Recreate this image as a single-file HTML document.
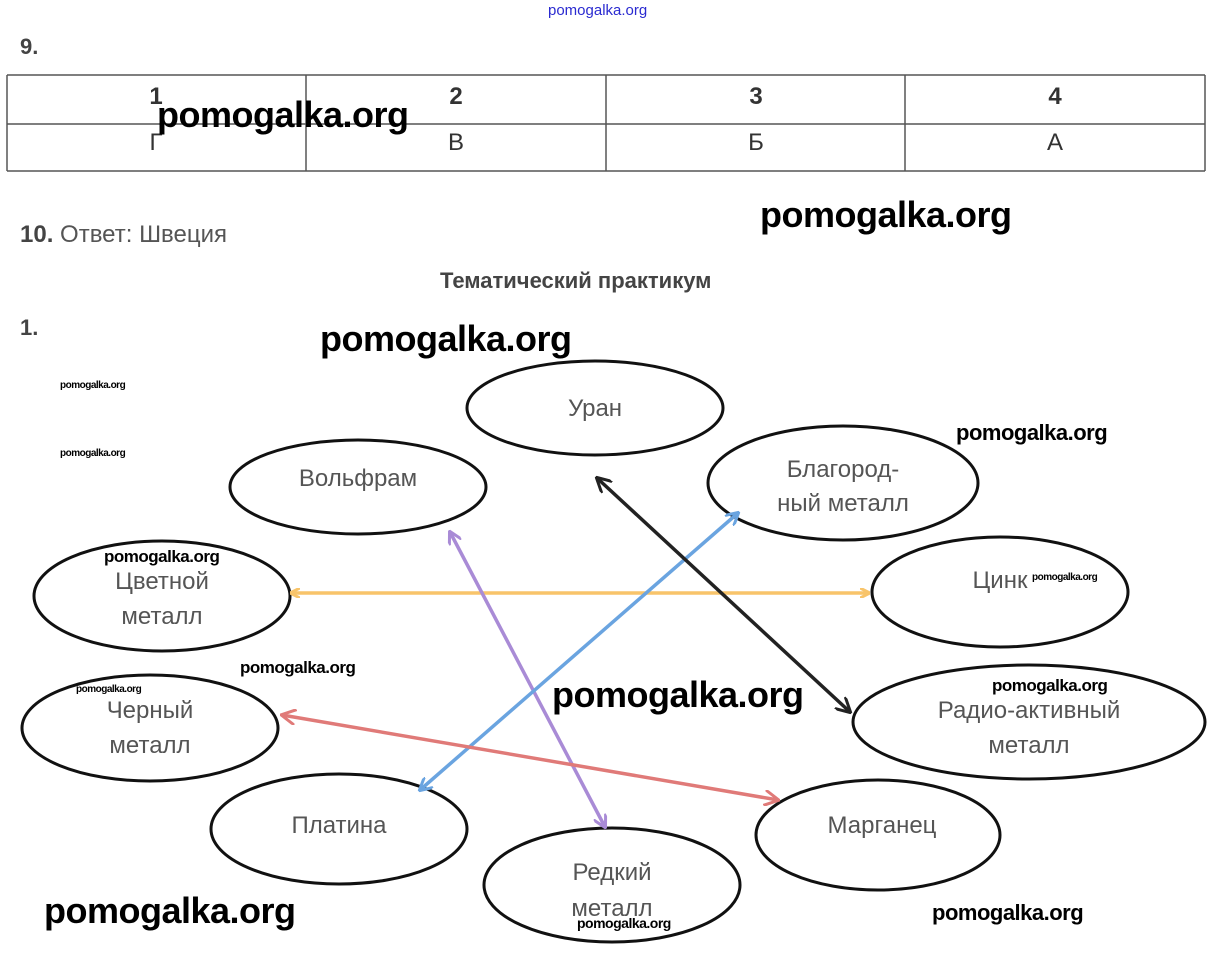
<!DOCTYPE html>
<html><head><meta charset="utf-8"><style>
body{margin:0;background:#fff;width:1213px;height:980px;overflow:hidden;position:relative;font-family:"Liberation Sans",sans-serif}
.t{position:absolute;white-space:nowrap}
.wm{font-family:"Liberation Sans",sans-serif;font-weight:bold;color:#000;position:absolute;white-space:nowrap;letter-spacing:-0.5px}
</style></head><body>
<svg width="1213" height="980" style="position:absolute;left:0;top:0" font-family="Liberation Sans, sans-serif">
<defs>
<marker id="mo" markerWidth="10" markerHeight="10" refX="8" refY="5" orient="auto-start-reverse" markerUnits="userSpaceOnUse"><path d="M0,0 L10,5 L0,10" fill="none" stroke="#f8c46a" stroke-width="3"/></marker>
<marker id="mp" markerWidth="14" markerHeight="14" refX="12" refY="7" orient="auto-start-reverse" markerUnits="userSpaceOnUse"><path d="M0,0 L13,7 L0,14" fill="none" stroke="#a98bd6" stroke-width="3"/></marker>
<marker id="mb" markerWidth="14" markerHeight="14" refX="12" refY="7" orient="auto-start-reverse" markerUnits="userSpaceOnUse"><path d="M0,0 L13,7 L0,14" fill="none" stroke="#6aa4e0" stroke-width="3"/></marker>
<marker id="mk" markerWidth="16" markerHeight="16" refX="14" refY="8" orient="auto-start-reverse" markerUnits="userSpaceOnUse"><path d="M0,0 L15,8 L0,16" fill="none" stroke="#222" stroke-width="3"/></marker>
<marker id="mr" markerWidth="16" markerHeight="16" refX="14" refY="8" orient="auto-start-reverse" markerUnits="userSpaceOnUse"><path d="M0,0 L15,8 L0,16" fill="none" stroke="#e07a78" stroke-width="3"/></marker>
</defs>
<!-- table -->
<g stroke="#555" stroke-width="1.5" fill="none">
<line x1="7" y1="75" x2="1205" y2="75"/><line x1="7" y1="124" x2="1205" y2="124"/><line x1="7" y1="171" x2="1205" y2="171"/>
<line x1="7" y1="75" x2="7" y2="171"/><line x1="306" y1="75" x2="306" y2="171"/><line x1="606" y1="75" x2="606" y2="171"/><line x1="905" y1="75" x2="905" y2="171"/><line x1="1205" y1="75" x2="1205" y2="171"/>
</g>
<g font-size="24" fill="#333" text-anchor="middle">
<text x="156" y="104" font-weight="bold">1</text><text x="456" y="104" font-weight="bold">2</text><text x="756" y="104" font-weight="bold">3</text><text x="1055" y="104" font-weight="bold">4</text>
<text x="156" y="150">Г</text><text x="456" y="150">В</text><text x="756" y="150">Б</text><text x="1055" y="150">А</text>
</g>
<!-- ellipses -->
<g fill="none" stroke="#111" stroke-width="3">
<ellipse cx="595" cy="408" rx="128" ry="47"/>
<ellipse cx="358" cy="487" rx="128" ry="47"/>
<ellipse cx="843" cy="483" rx="135" ry="57"/>
<ellipse cx="162" cy="596" rx="128" ry="55"/>
<ellipse cx="1000" cy="592" rx="128" ry="55"/>
<ellipse cx="150" cy="728" rx="128" ry="53"/>
<ellipse cx="1029" cy="722" rx="176" ry="57"/>
<ellipse cx="339" cy="829" rx="128" ry="55"/>
<ellipse cx="878" cy="835" rx="122" ry="55"/>
<ellipse cx="612" cy="885" rx="128" ry="57"/>
</g>
<g font-size="24" fill="#555" text-anchor="middle">
<text x="595" y="416">Уран</text>
<text x="358" y="486">Вольфрам</text>
<text x="843" y="477">Благород-</text><text x="843" y="511">ный металл</text>
<text x="162" y="589">Цветной</text><text x="162" y="624">металл</text>
<text x="1000" y="588">Цинк</text>
<text x="150" y="718">Черный</text><text x="150" y="753">металл</text>
<text x="1029" y="718">Радио-активный</text><text x="1029" y="753">металл</text>
<text x="339" y="833">Платина</text>
<text x="882" y="833">Марганец</text>
<text x="612" y="880">Редкий</text><text x="612" y="916">металл</text>
</g>
<!-- arrows -->
<g fill="none" stroke-width="3.5">
<line x1="292" y1="593" x2="868" y2="593" stroke="#f8c46a" marker-start="url(#mo)" marker-end="url(#mo)"/>
<line x1="450" y1="532" x2="605" y2="827" stroke="#a98bd6" marker-start="url(#mp)" marker-end="url(#mp)"/>
<line x1="738" y1="513" x2="420" y2="790" stroke="#6aa4e0" marker-start="url(#mb)" marker-end="url(#mb)"/>
<line x1="597" y1="478" x2="850" y2="712" stroke="#222" marker-start="url(#mk)" marker-end="url(#mk)"/>
<line x1="282" y1="715" x2="778" y2="800" stroke="#e07a78" marker-start="url(#mr)" marker-end="url(#mr)"/>
</g>
</svg>
<div class="t" style="left:548px;top:2px;font-size:15px;color:#2a2ad0">pomogalka.org</div>
<div class="t" style="left:20px;top:34px;font-size:22px;font-weight:bold;color:#444">9.</div>
<div class="t" style="left:20px;top:221px;font-size:24px;color:#555"><b style="color:#444">10.</b> Ответ: Швеция</div>
<div class="t" style="left:440px;top:268px;font-size:22px;font-weight:bold;color:#444">Тематический практикум</div>
<div class="t" style="left:20px;top:315px;font-size:22px;font-weight:bold;color:#444">1.</div>
<div class="wm" style="left:157px;top:94px;font-size:36px">pomogalka.org</div>
<div class="wm" style="left:760px;top:194px;font-size:36px">pomogalka.org</div>
<div class="wm" style="left:320px;top:318px;font-size:36px">pomogalka.org</div>
<div class="wm" style="left:552px;top:674px;font-size:36px">pomogalka.org</div>
<div class="wm" style="left:44px;top:890px;font-size:36px">pomogalka.org</div>
<div class="wm" style="left:956px;top:420px;font-size:22px">pomogalka.org</div>
<div class="wm" style="left:104px;top:547px;font-size:17px">pomogalka.org</div>
<div class="wm" style="left:240px;top:658px;font-size:17px">pomogalka.org</div>
<div class="wm" style="left:992px;top:676px;font-size:17px">pomogalka.org</div>
<div class="wm" style="left:932px;top:900px;font-size:22px">pomogalka.org</div>
<div class="wm" style="left:60px;top:380px;font-size:10px">pomogalka.org</div>
<div class="wm" style="left:60px;top:448px;font-size:10px">pomogalka.org</div>
<div class="wm" style="left:1032px;top:572px;font-size:10px">pomogalka.org</div>
<div class="wm" style="left:76px;top:684px;font-size:10px">pomogalka.org</div>
<div class="wm" style="left:577px;top:915px;font-size:14px">pomogalka.org</div>
</body></html>
